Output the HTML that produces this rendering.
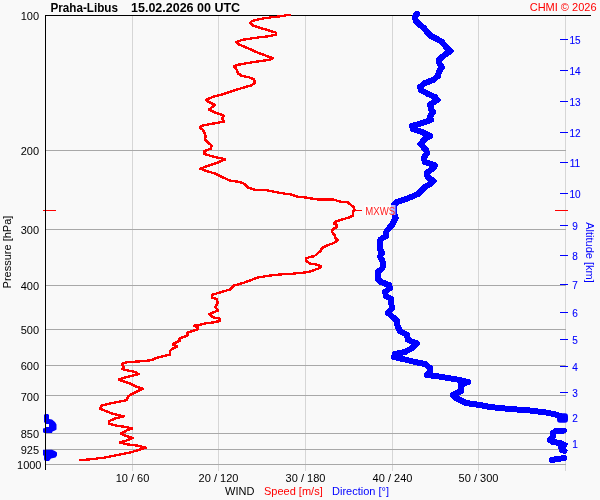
<!DOCTYPE html>
<html><head><meta charset="utf-8"><style>
html,body{margin:0;padding:0;background:#f9f9f9;}
svg{display:block;will-change:transform;}
text{font-family:"Liberation Sans",sans-serif;}
</style></head><body>
<svg width="600" height="500" viewBox="0 0 600 500">
<rect x="0" y="0" width="600" height="500" fill="#f9f9f9"/>

<rect x="132" y="16" width="1" height="455" fill="#d6d6d6"/>
<rect x="218" y="16" width="1" height="455" fill="#d6d6d6"/>
<rect x="305" y="16" width="1" height="455" fill="#d6d6d6"/>
<rect x="392" y="16" width="1" height="455" fill="#d6d6d6"/>
<rect x="478" y="16" width="1" height="455" fill="#d6d6d6"/>
<rect x="565" y="16" width="1" height="455" fill="#d6d6d6"/>
<rect x="46" y="150" width="520" height="1" fill="#a8a8a8"/>
<rect x="46" y="229" width="520" height="1" fill="#a8a8a8"/>
<rect x="46" y="285" width="520" height="1" fill="#a8a8a8"/>
<rect x="46" y="329" width="520" height="1" fill="#a8a8a8"/>
<rect x="46" y="365" width="520" height="1" fill="#a8a8a8"/>
<rect x="46" y="395" width="520" height="1" fill="#a8a8a8"/>
<rect x="46" y="433" width="520" height="1" fill="#a8a8a8"/>
<rect x="46" y="449" width="520" height="1" fill="#a8a8a8"/>
<rect x="46" y="464" width="520" height="1" fill="#a8a8a8"/>
<rect x="45" y="15" width="546" height="1" fill="#000"/>
<text x="39" y="20" font-size="11" text-anchor="end" fill="#000">100</text>
<text x="39" y="155" font-size="11" text-anchor="end" fill="#000">200</text>
<text x="39" y="234" font-size="11" text-anchor="end" fill="#000">300</text>
<text x="39" y="290" font-size="11" text-anchor="end" fill="#000">400</text>
<text x="39" y="334" font-size="11" text-anchor="end" fill="#000">500</text>
<text x="39" y="370" font-size="11" text-anchor="end" fill="#000">600</text>
<text x="39" y="401" font-size="11" text-anchor="end" fill="#000">700</text>
<text x="39" y="438" font-size="11" text-anchor="end" fill="#000">850</text>
<text x="39" y="454" font-size="11" text-anchor="end" fill="#000">925</text>
<text x="41.5" y="469" font-size="11" text-anchor="end" fill="#000">1000</text>
<text x="50.5" y="12" font-size="12.5" font-weight="bold" fill="#000" textLength="67.5" lengthAdjust="spacingAndGlyphs">Praha-Libus</text>
<text x="131" y="12" font-size="12.5" font-weight="bold" fill="#000">15.02.2026 00 UTC</text>
<text x="596.5" y="11" font-size="11" text-anchor="end" fill="#ff0000">CHMI © 2026</text>
<text transform="translate(11,252) rotate(-90)" font-size="11" text-anchor="middle" fill="#000">Pressure [hPa]</text>
<text transform="translate(586,252.5) rotate(90)" font-size="11" text-anchor="middle" fill="#0000ff">Altitude [km]</text>
<rect x="560" y="443" width="8" height="1" fill="#0000ff"/>
<text x="575" y="448" font-size="10" text-anchor="middle" fill="#0000ff" stroke="#0000ff" stroke-width="0.1">1</text>
<rect x="560" y="417" width="8" height="1" fill="#0000ff"/>
<text x="575" y="422" font-size="10" text-anchor="middle" fill="#0000ff" stroke="#0000ff" stroke-width="0.1">2</text>
<rect x="560" y="392" width="8" height="1" fill="#0000ff"/>
<text x="575" y="397" font-size="10" text-anchor="middle" fill="#0000ff" stroke="#0000ff" stroke-width="0.1">3</text>
<rect x="560" y="366" width="8" height="1" fill="#0000ff"/>
<text x="575" y="371" font-size="10" text-anchor="middle" fill="#0000ff" stroke="#0000ff" stroke-width="0.1">4</text>
<rect x="560" y="339" width="8" height="1" fill="#0000ff"/>
<text x="575" y="344" font-size="10" text-anchor="middle" fill="#0000ff" stroke="#0000ff" stroke-width="0.1">5</text>
<rect x="560" y="312" width="8" height="1" fill="#0000ff"/>
<text x="575" y="317" font-size="10" text-anchor="middle" fill="#0000ff" stroke="#0000ff" stroke-width="0.1">6</text>
<rect x="560" y="284" width="8" height="1" fill="#0000ff"/>
<text x="575" y="289" font-size="10" text-anchor="middle" fill="#0000ff" stroke="#0000ff" stroke-width="0.1">7</text>
<rect x="560" y="255" width="8" height="1" fill="#0000ff"/>
<text x="575" y="260" font-size="10" text-anchor="middle" fill="#0000ff" stroke="#0000ff" stroke-width="0.1">8</text>
<rect x="560" y="225" width="8" height="1" fill="#0000ff"/>
<text x="575" y="230" font-size="10" text-anchor="middle" fill="#0000ff" stroke="#0000ff" stroke-width="0.1">9</text>
<rect x="560" y="193" width="8" height="1" fill="#0000ff"/>
<text x="575" y="198" font-size="10" text-anchor="middle" fill="#0000ff" stroke="#0000ff" stroke-width="0.1">10</text>
<rect x="560" y="162" width="8" height="1" fill="#0000ff"/>
<text x="575" y="167" font-size="10" text-anchor="middle" fill="#0000ff" stroke="#0000ff" stroke-width="0.1">11</text>
<rect x="560" y="132" width="8" height="1" fill="#0000ff"/>
<text x="575" y="137" font-size="10" text-anchor="middle" fill="#0000ff" stroke="#0000ff" stroke-width="0.1">12</text>
<rect x="560" y="101" width="8" height="1" fill="#0000ff"/>
<text x="575" y="106" font-size="10" text-anchor="middle" fill="#0000ff" stroke="#0000ff" stroke-width="0.1">13</text>
<rect x="560" y="70" width="8" height="1" fill="#0000ff"/>
<text x="575" y="75" font-size="10" text-anchor="middle" fill="#0000ff" stroke="#0000ff" stroke-width="0.1">14</text>
<rect x="560" y="39" width="8" height="1" fill="#0000ff"/>
<text x="575" y="44" font-size="10" text-anchor="middle" fill="#0000ff" stroke="#0000ff" stroke-width="0.1">15</text>
<text x="132.5" y="482" font-size="11" text-anchor="middle" fill="#000">10 / 60</text>
<text x="218.5" y="482" font-size="11" text-anchor="middle" fill="#000">20 / 120</text>
<text x="305.5" y="482" font-size="11" text-anchor="middle" fill="#000">30 / 180</text>
<text x="392.5" y="482" font-size="11" text-anchor="middle" fill="#000">40 / 240</text>
<text x="478.5" y="482" font-size="11" text-anchor="middle" fill="#000">50 / 300</text>
<text x="225" y="495" font-size="11" fill="#000">WIND</text>
<text x="264" y="495" font-size="11" fill="#ff0000">Speed [m/s]</text>
<text x="332" y="495" font-size="11" fill="#0000ff">Direction [°]</text>
<rect x="43" y="210" width="13" height="1" fill="#ff0000"/>
<rect x="555" y="210" width="13" height="1" fill="#ff0000"/>
<polyline transform="translate(-0.5,-0.5)" points="290,14.5 281,16.3 272,17.2 260,19 252,21 250.5,23 252.5,25.2 260,28 269,30.4 276,32.7 276,34.5 269,36.2 254,38 242.5,39.8 236.5,42 238,44 244,46.5 252,50 259,53.2 267,56 272.5,58 270,59.7 258.3,61.4 246.7,63.2 237.3,64.9 233.8,66.7 236.2,69 238.5,73.7 242,76 249,77.2 253.7,79.5 255.4,82.4 251.3,85.3 243.2,87.7 233.8,90.6 223.3,94.1 214,96.4 205.8,99.9 209.3,102.3 214.6,104.8 209.2,109.6 214,112 223.6,115.6 222.4,118.6 223.6,121.6 214,123.4 202,125.8 200.2,127.6 203.2,130 205.6,136 205,139.6 211.6,145.6 211,148.6 204.4,151 204.4,154 212.5,156.4 225.3,159.3 218.3,162.3 206.7,166.3 200.3,168.7 206.7,171 216,173.9 223,177.4 230,180.6 240.5,182.1 245.2,184.4 248.7,187.9 254.5,189.7 265,190 271.7,191.3 283.3,193.4 291.5,194.6 298.5,196.9 305.5,197.5 318.3,199.6 333,199.5 340,201.5 348,202.5 351,205 354,207.5 354.5,210 353,212 353,215.5 349,217.5 342,219.5 336,221.5 334,223.5 337.5,225.5 336,227.5 332.5,229.5 332,232 334.5,235 335,237.5 338,240 334,243 328,245 322,248 321,250.5 318,253 315,256 310,257 306,258.5 306,261 310,263.5 316,264.5 321,266 320,268 314,270 309,272 300,273 290,274 280,274.5 272.5,275.2 257.5,277.5 250,280.5 242.5,283.2 233.5,285.7 229.7,289.5 220,292.5 212.5,294.7 211.7,297.7 217,299.2 217.7,303 215.5,306.7 217.7,310.5 209.5,314.2 212.5,317.2 220,318.7 220,321 212.5,322.5 206.3,323.1 199.8,324.8 193.9,325.8 197.7,327.5 198.2,329.1 191.2,331.3 187.4,332.9 187.4,335.6 182.5,337.2 179.3,338.8 180.3,340.5 176,342.6 172.8,344.3 177.1,346.4 171.7,349.1 170,351.3 170,354.5 163,356.2 156.5,357.8 153.3,359.4 149,360.5 138,361.5 129,362 123,363 122,365 124,367 122.5,369 128,370.5 135,372 138.5,374 133,375.5 125,377.5 119,379.5 122,381 129,383 135,386 143,389 139,390.5 133,393.5 128,396.5 127,400 120,401.5 110,403.5 102,405.5 100,408.75 106.25,411.25 112.5,413.75 123.75,416.25 116.25,418.1 108.75,421.25 108.75,423.75 116.25,425.6 125,426.9 132.5,428.5 126.25,430.6 121.25,433.5 125,435.6 132.5,438.1 126.25,440.6 120,442.5 127.5,444.4 137.5,445.6 145.6,447.75 138.75,450 130,452.5 117.5,455 105,457.5 90,459.4 80,460" fill="none" stroke="#ff0000" stroke-width="1.2" stroke-linejoin="round" shape-rendering="crispEdges"/>
<polyline transform="translate(0.5,-0.5)" points="290,14.5 281,16.3 272,17.2 260,19 252,21 250.5,23 252.5,25.2 260,28 269,30.4 276,32.7 276,34.5 269,36.2 254,38 242.5,39.8 236.5,42 238,44 244,46.5 252,50 259,53.2 267,56 272.5,58 270,59.7 258.3,61.4 246.7,63.2 237.3,64.9 233.8,66.7 236.2,69 238.5,73.7 242,76 249,77.2 253.7,79.5 255.4,82.4 251.3,85.3 243.2,87.7 233.8,90.6 223.3,94.1 214,96.4 205.8,99.9 209.3,102.3 214.6,104.8 209.2,109.6 214,112 223.6,115.6 222.4,118.6 223.6,121.6 214,123.4 202,125.8 200.2,127.6 203.2,130 205.6,136 205,139.6 211.6,145.6 211,148.6 204.4,151 204.4,154 212.5,156.4 225.3,159.3 218.3,162.3 206.7,166.3 200.3,168.7 206.7,171 216,173.9 223,177.4 230,180.6 240.5,182.1 245.2,184.4 248.7,187.9 254.5,189.7 265,190 271.7,191.3 283.3,193.4 291.5,194.6 298.5,196.9 305.5,197.5 318.3,199.6 333,199.5 340,201.5 348,202.5 351,205 354,207.5 354.5,210 353,212 353,215.5 349,217.5 342,219.5 336,221.5 334,223.5 337.5,225.5 336,227.5 332.5,229.5 332,232 334.5,235 335,237.5 338,240 334,243 328,245 322,248 321,250.5 318,253 315,256 310,257 306,258.5 306,261 310,263.5 316,264.5 321,266 320,268 314,270 309,272 300,273 290,274 280,274.5 272.5,275.2 257.5,277.5 250,280.5 242.5,283.2 233.5,285.7 229.7,289.5 220,292.5 212.5,294.7 211.7,297.7 217,299.2 217.7,303 215.5,306.7 217.7,310.5 209.5,314.2 212.5,317.2 220,318.7 220,321 212.5,322.5 206.3,323.1 199.8,324.8 193.9,325.8 197.7,327.5 198.2,329.1 191.2,331.3 187.4,332.9 187.4,335.6 182.5,337.2 179.3,338.8 180.3,340.5 176,342.6 172.8,344.3 177.1,346.4 171.7,349.1 170,351.3 170,354.5 163,356.2 156.5,357.8 153.3,359.4 149,360.5 138,361.5 129,362 123,363 122,365 124,367 122.5,369 128,370.5 135,372 138.5,374 133,375.5 125,377.5 119,379.5 122,381 129,383 135,386 143,389 139,390.5 133,393.5 128,396.5 127,400 120,401.5 110,403.5 102,405.5 100,408.75 106.25,411.25 112.5,413.75 123.75,416.25 116.25,418.1 108.75,421.25 108.75,423.75 116.25,425.6 125,426.9 132.5,428.5 126.25,430.6 121.25,433.5 125,435.6 132.5,438.1 126.25,440.6 120,442.5 127.5,444.4 137.5,445.6 145.6,447.75 138.75,450 130,452.5 117.5,455 105,457.5 90,459.4 80,460" fill="none" stroke="#ff0000" stroke-width="1.2" stroke-linejoin="round" shape-rendering="crispEdges"/>
<polyline transform="translate(-0.5,0.5)" points="290,14.5 281,16.3 272,17.2 260,19 252,21 250.5,23 252.5,25.2 260,28 269,30.4 276,32.7 276,34.5 269,36.2 254,38 242.5,39.8 236.5,42 238,44 244,46.5 252,50 259,53.2 267,56 272.5,58 270,59.7 258.3,61.4 246.7,63.2 237.3,64.9 233.8,66.7 236.2,69 238.5,73.7 242,76 249,77.2 253.7,79.5 255.4,82.4 251.3,85.3 243.2,87.7 233.8,90.6 223.3,94.1 214,96.4 205.8,99.9 209.3,102.3 214.6,104.8 209.2,109.6 214,112 223.6,115.6 222.4,118.6 223.6,121.6 214,123.4 202,125.8 200.2,127.6 203.2,130 205.6,136 205,139.6 211.6,145.6 211,148.6 204.4,151 204.4,154 212.5,156.4 225.3,159.3 218.3,162.3 206.7,166.3 200.3,168.7 206.7,171 216,173.9 223,177.4 230,180.6 240.5,182.1 245.2,184.4 248.7,187.9 254.5,189.7 265,190 271.7,191.3 283.3,193.4 291.5,194.6 298.5,196.9 305.5,197.5 318.3,199.6 333,199.5 340,201.5 348,202.5 351,205 354,207.5 354.5,210 353,212 353,215.5 349,217.5 342,219.5 336,221.5 334,223.5 337.5,225.5 336,227.5 332.5,229.5 332,232 334.5,235 335,237.5 338,240 334,243 328,245 322,248 321,250.5 318,253 315,256 310,257 306,258.5 306,261 310,263.5 316,264.5 321,266 320,268 314,270 309,272 300,273 290,274 280,274.5 272.5,275.2 257.5,277.5 250,280.5 242.5,283.2 233.5,285.7 229.7,289.5 220,292.5 212.5,294.7 211.7,297.7 217,299.2 217.7,303 215.5,306.7 217.7,310.5 209.5,314.2 212.5,317.2 220,318.7 220,321 212.5,322.5 206.3,323.1 199.8,324.8 193.9,325.8 197.7,327.5 198.2,329.1 191.2,331.3 187.4,332.9 187.4,335.6 182.5,337.2 179.3,338.8 180.3,340.5 176,342.6 172.8,344.3 177.1,346.4 171.7,349.1 170,351.3 170,354.5 163,356.2 156.5,357.8 153.3,359.4 149,360.5 138,361.5 129,362 123,363 122,365 124,367 122.5,369 128,370.5 135,372 138.5,374 133,375.5 125,377.5 119,379.5 122,381 129,383 135,386 143,389 139,390.5 133,393.5 128,396.5 127,400 120,401.5 110,403.5 102,405.5 100,408.75 106.25,411.25 112.5,413.75 123.75,416.25 116.25,418.1 108.75,421.25 108.75,423.75 116.25,425.6 125,426.9 132.5,428.5 126.25,430.6 121.25,433.5 125,435.6 132.5,438.1 126.25,440.6 120,442.5 127.5,444.4 137.5,445.6 145.6,447.75 138.75,450 130,452.5 117.5,455 105,457.5 90,459.4 80,460" fill="none" stroke="#ff0000" stroke-width="1.2" stroke-linejoin="round" shape-rendering="crispEdges"/>
<polyline transform="translate(0.5,0.5)" points="290,14.5 281,16.3 272,17.2 260,19 252,21 250.5,23 252.5,25.2 260,28 269,30.4 276,32.7 276,34.5 269,36.2 254,38 242.5,39.8 236.5,42 238,44 244,46.5 252,50 259,53.2 267,56 272.5,58 270,59.7 258.3,61.4 246.7,63.2 237.3,64.9 233.8,66.7 236.2,69 238.5,73.7 242,76 249,77.2 253.7,79.5 255.4,82.4 251.3,85.3 243.2,87.7 233.8,90.6 223.3,94.1 214,96.4 205.8,99.9 209.3,102.3 214.6,104.8 209.2,109.6 214,112 223.6,115.6 222.4,118.6 223.6,121.6 214,123.4 202,125.8 200.2,127.6 203.2,130 205.6,136 205,139.6 211.6,145.6 211,148.6 204.4,151 204.4,154 212.5,156.4 225.3,159.3 218.3,162.3 206.7,166.3 200.3,168.7 206.7,171 216,173.9 223,177.4 230,180.6 240.5,182.1 245.2,184.4 248.7,187.9 254.5,189.7 265,190 271.7,191.3 283.3,193.4 291.5,194.6 298.5,196.9 305.5,197.5 318.3,199.6 333,199.5 340,201.5 348,202.5 351,205 354,207.5 354.5,210 353,212 353,215.5 349,217.5 342,219.5 336,221.5 334,223.5 337.5,225.5 336,227.5 332.5,229.5 332,232 334.5,235 335,237.5 338,240 334,243 328,245 322,248 321,250.5 318,253 315,256 310,257 306,258.5 306,261 310,263.5 316,264.5 321,266 320,268 314,270 309,272 300,273 290,274 280,274.5 272.5,275.2 257.5,277.5 250,280.5 242.5,283.2 233.5,285.7 229.7,289.5 220,292.5 212.5,294.7 211.7,297.7 217,299.2 217.7,303 215.5,306.7 217.7,310.5 209.5,314.2 212.5,317.2 220,318.7 220,321 212.5,322.5 206.3,323.1 199.8,324.8 193.9,325.8 197.7,327.5 198.2,329.1 191.2,331.3 187.4,332.9 187.4,335.6 182.5,337.2 179.3,338.8 180.3,340.5 176,342.6 172.8,344.3 177.1,346.4 171.7,349.1 170,351.3 170,354.5 163,356.2 156.5,357.8 153.3,359.4 149,360.5 138,361.5 129,362 123,363 122,365 124,367 122.5,369 128,370.5 135,372 138.5,374 133,375.5 125,377.5 119,379.5 122,381 129,383 135,386 143,389 139,390.5 133,393.5 128,396.5 127,400 120,401.5 110,403.5 102,405.5 100,408.75 106.25,411.25 112.5,413.75 123.75,416.25 116.25,418.1 108.75,421.25 108.75,423.75 116.25,425.6 125,426.9 132.5,428.5 126.25,430.6 121.25,433.5 125,435.6 132.5,438.1 126.25,440.6 120,442.5 127.5,444.4 137.5,445.6 145.6,447.75 138.75,450 130,452.5 117.5,455 105,457.5 90,459.4 80,460" fill="none" stroke="#ff0000" stroke-width="1.2" stroke-linejoin="round" shape-rendering="crispEdges"/>
<rect x="355" y="210" width="7" height="1" fill="#ff0000"/>
<polyline points="417,14 414.5,17 416,21 420,25 424,28 427,32 431,36 437,39 442,42 446,47 450.5,51 444,55.5 439,59.5 439.5,64 442,67.5 439,71.5 438,76 433,80 425,83 420,87 421,90 428,94 435,97 437.5,100 430,104.5 431,109 433,112 430,116.5 431,120 422,123 412,126 413,129 422,132 430,136 425,139 420.5,144 426,150 427,153 423.5,158 425,162 435,165.5 433,168.5 426.5,173 427.5,177 433.5,181 430,184 425,187 421,191 418,194 410,197.5 403,200 397,202 394,205 394,212 395.6,218 392,225 386.5,231 386,236 380.5,239.5 380,245 380,249 382,253 380,256.5 382.5,261 383.5,266 381.5,269 378,272 378,279 381,282 389,285 390,288 385,292 386,296 391,299 391,302 392,308 388,313 394,318 397,321 397.5,326 400,331 407,335 408,340 417,343.5 413,347.5 405,352 395,354 394,357 403,359 415,362 425,364 430,368 430,372 427,375 436,376 460,380 468,382 461,385 461,391 453,395 456,398 466,403 480,405 490,407 510,409 530,410.5 546,412.5 556,414.5 560,416" fill="none" stroke="#0000ff" stroke-width="6" stroke-linejoin="round" stroke-linecap="round" shape-rendering="crispEdges"/>
<polyline points="564,430.5 556,431 553,433 553,436 550,440 553,442 560,443 564.5,445 561,447.5 562,450 564.5,451" fill="none" stroke="#0000ff" stroke-width="6" stroke-linejoin="round" stroke-linecap="round" shape-rendering="crispEdges"/>
<polyline points="564.5,458 551.5,460" fill="none" stroke="#0000ff" stroke-width="6" stroke-linejoin="round" stroke-linecap="round" shape-rendering="crispEdges"/>
<rect x="557" y="413.3" width="11" height="9.5" rx="3" fill="#0000ff"/>
<polygon points="45,414 48,414 49,415 49,419 52,419.5 55,422 56.5,424.5 56.5,429.5 55,430.5 52.5,431.5 52,433 44,433 43,432 43,428.5 45,428 45,427 49,427 49,424 45,424 45,422.5 44,422.5 44,415" fill="#0000ff"/>
<polygon points="43,449.75 52,449.75 55,451 57,452.5 57,455.5 55.5,457.5 51,458.5 49,461 45,461 44,459.5 44,455.5 43,455.5" fill="#0000ff"/>
<rect x="45" y="15" width="1" height="455" fill="#000"/>
<rect x="364" y="205" width="31.5" height="10" fill="#ffffff" fill-opacity="0.7"/>
<text x="365.3" y="214.8" font-size="10" fill="#ff2020" textLength="29.8" lengthAdjust="spacingAndGlyphs">MXWS</text>
</svg></body></html>
